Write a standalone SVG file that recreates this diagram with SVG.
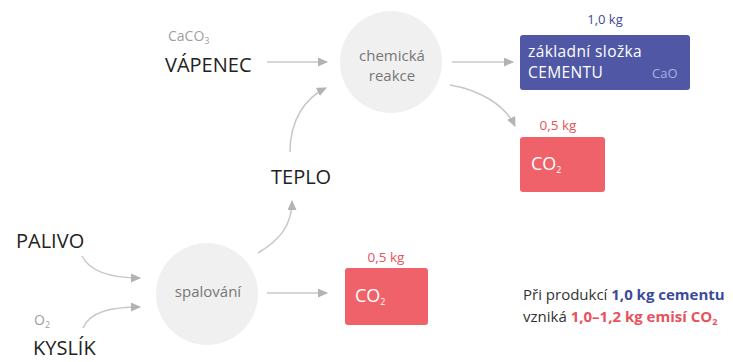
<svg xmlns="http://www.w3.org/2000/svg" width="733" height="362" viewBox="0 0 733 362">
<defs>
<marker id="ah" markerUnits="userSpaceOnUse" markerWidth="10" markerHeight="9" refX="9" refY="4.5" orient="auto">
<path d="M0,0 L10,4.5 L0,9 z" fill="#b3b3b3"/>
</marker>
</defs>
<style>
text{font-family:"Open Sans","Liberation Sans",sans-serif}
.lbl{font-size:20px;fill:#222;font-weight:500}
.sub{font-size:14px;fill:#a0a0a0}
.circ{fill:#f0f0f0}
.ctext{font-size:15px;fill:#777;text-anchor:middle}
.conn{fill:none;stroke:#c8c8c8;stroke-width:1.5;marker-end:url(#ah)}
.blue{fill:#5058a6}
.red{fill:#f0626a}
.wt{fill:#fff;font-size:15.5px;letter-spacing:0.4px}
.co{fill:#fff;font-size:18px}
.kgb{font-size:13px;fill:#3c4a9c;text-anchor:middle}
.kgr{font-size:13.5px;fill:#e8525a;text-anchor:middle}
.note{font-size:15px;fill:#333}
</style>
<rect width="733" height="362" fill="#fff"/>
<g id="connectors">
<path class="conn" d="M267,62 L327,62"/>
<path class="conn" d="M452,62 L513,62"/>
<path class="conn" d="M450,85 C480,90 505,105 515,126"/>
<path class="conn" d="M290,152 C290,120 305,98 326,88"/>
<path class="conn" d="M258,253 C280,240 292,225 292,201"/>
<path class="conn" d="M82,256 C90,272 110,278 140,278"/>
<path class="conn" d="M83,328 C90,312 110,307 140,307"/>
<path class="conn" d="M267,293 L327,293"/>
</g>
<g id="vapenec">
<text class="sub" x="168" y="41">CaCO<tspan font-size="9" dy="3">3</tspan></text>
<text class="lbl" x="165" y="72">VÁPENEC</text>
</g>
<g id="chemicka-reakce">
<circle class="circ" cx="391" cy="62" r="51"/>
<text class="ctext" x="392" y="61">chemická</text>
<text class="ctext" x="392" y="81">reakce</text>
</g>
<g id="cement">
<text class="kgb" x="605" y="24">1,0 kg</text>
<rect class="blue" x="520" y="35" width="170" height="55" rx="3"/>
<text class="wt" x="528" y="57">základní složka</text>
<text class="wt" x="528" y="78">CEMENTU</text>
<text x="652" y="78" font-size="13" fill="#a9b0e0">CaO</text>
</g>
<g id="co2-top">
<text class="kgr" x="558" y="130">0,5 kg</text>
<rect class="red" x="520" y="137" width="85" height="55" rx="3"/>
<text class="co" x="531" y="170">CO<tspan font-size="9" dy="3">2</tspan></text>
</g>
<g id="teplo">
<text class="lbl" x="271" y="184">TEPLO</text>
</g>
<g id="palivo">
<text class="lbl" x="16" y="248">PALIVO</text>
</g>
<g id="kyslik">
<text class="sub" x="34" y="325">O<tspan font-size="9" dy="3">2</tspan></text>
<text class="lbl" x="33" y="355">KYSLÍK</text>
</g>
<g id="spalovani">
<circle class="circ" cx="207" cy="294" r="51"/>
<text class="ctext" x="208" y="297">spalování</text>
</g>
<g id="co2-bottom">
<text class="kgr" x="386" y="262">0,5 kg</text>
<rect class="red" x="345" y="268" width="83" height="57" rx="3"/>
<text class="co" x="355" y="302">CO<tspan font-size="9" dy="3">2</tspan></text>
</g>
<g id="note">
<text class="note" x="523" y="300">Při produkcí <tspan fill="#3c4a9c" font-weight="bold">1,0 kg cementu</tspan></text>
<text class="note" x="523" y="322">vzniká <tspan fill="#e8525a" font-weight="bold">1,0–1,2 kg emisí CO<tspan font-size="9" dy="3">2</tspan></tspan></text>
</g>
</svg>
